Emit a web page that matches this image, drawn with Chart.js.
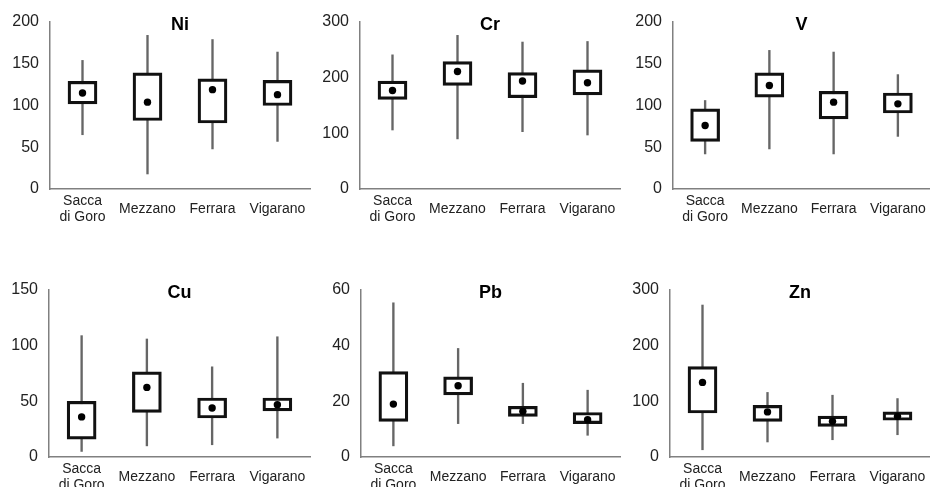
<!DOCTYPE html>
<html>
<head>
<meta charset="utf-8">
<script src="https://cdn.jsdelivr.net/npm/chart.js@4.4.1/dist/chart.umd.min.js"></script>
<style>
  body { margin: 0; background: #fff; }
  #wrap { position: relative; width: 930px; height: 487px; overflow: hidden; }
  canvas { position: absolute; }
</style>
</head>
<body>
<div id="wrap">
  <canvas id="ni" width="314" height="240" style="left:0;top:0"></canvas>
  <canvas id="cr" width="314" height="240" style="left:310px;top:0"></canvas>
  <canvas id="v" width="314" height="240" style="left:620px;top:0"></canvas>
  <canvas id="cu" width="314" height="247" style="left:0;top:240px"></canvas>
  <canvas id="pb" width="314" height="247" style="left:310px;top:240px"></canvas>
  <canvas id="zn" width="314" height="247" style="left:620px;top:240px"></canvas>
</div>
<script>
// sites along the x axis
const sites = [['Sacca', 'di Goro'], 'Mezzano', 'Ferrara', 'Vigarano'];

// Ni
const niMin = [65, 18, 48, 57];
const niQ1 = [102, 82, 79, 100];
const niQ3 = [129, 139, 132, 130];
const niMax = [154, 184, 179, 164];
const niMid = [115, 104, 119, 113];

// Cr
const crMin = [106, 90, 103, 97];
const crQ1 = [161, 186, 164, 169];
const crQ3 = [194, 229, 209, 214];
const crMax = [241, 276, 264, 265];
const crMid = [177, 211, 194, 191];

// V
const vMin = [42, 48, 42, 63];
const vQ1 = [57, 110, 84, 91];
const vQ3 = [96, 139, 117, 115];
const vMax = [106, 166, 164, 137];
const vMid = [76, 124, 104, 102];

// Cu
const cuMin = [5, 10, 11, 17];
const cuQ1 = [16, 40, 35, 41.5];
const cuQ3 = [50, 76.5, 53, 53];
const cuMax = [109, 106, 81, 108];
const cuMid = [36, 62.5, 44, 47];

// Pb
const pbMin = [4, 12, 12, 7.8];
const pbQ1 = [12.8, 22.3, 14.6, 12];
const pbQ3 = [30.7, 28.8, 18.2, 16];
const pbMax = [55.4, 39, 26.5, 24];
const pbMid = [19, 25.6, 16.4, 13.4];

// Zn
const znMin = [13, 27, 31, 40];
const znQ1 = [79, 64, 55, 66];
const znQ3 = [162.5, 92.6, 73.5, 81];
const znMax = [273, 116, 111, 105];
const znMid = [134, 81, 64, 73];

const FONT = '"Liberation Sans", Arial, sans-serif';

// title drawn just over the top of the plot area
const titlePlugin = {
    id: 'panelTitle',
    afterDraw(chart, args, opts) {
        const ctx = chart.ctx;
        const area = chart.chartArea;
        ctx.save();
        ctx.font = 'bold 18px ' + FONT;
        ctx.fillStyle = '#000';
        ctx.textAlign = 'center';
        ctx.textBaseline = 'middle';
        ctx.fillText(opts.text, (area.left + area.right) / 2, area.top + 3);
        ctx.restore();
    }
};

function makePanel(id, title, mins, q1s, q3s, maxs, mids, yMax, yStep, axisW, padTop, xAxisH) {
    const pairs = (a, b) => a.map((v, i) => [v, b[i]]);
    new Chart(document.getElementById(id), {
        type: 'bar',
        data: {
            labels: sites,
            datasets: [
                {
                    type: 'line',
                    data: mids,
                    showLine: false,
                    pointRadius: 3.7,
                    pointBackgroundColor: '#000',
                    pointBorderWidth: 0,
                    order: 0
                },
                {
                    data: pairs(q1s, q3s),
                    backgroundColor: '#fff',
                    borderColor: '#111',
                    borderWidth: 3.2,
                    borderSkipped: false,
                    barThickness: 29,
                    grouped: false,
                    order: 1
                },
                {
                    data: pairs(mins, maxs),
                    backgroundColor: '#666',
                    borderWidth: 0,
                    barThickness: 1.7,
                    grouped: false,
                    order: 2
                }
            ]
        },
        options: {
            responsive: false,
            animation: false,
            layout: { padding: { top: padTop, right: 0, left: 0, bottom: 0 } },
            plugins: {
                legend: { display: false },
                tooltip: { enabled: false },
                panelTitle: { text: title }
            },
            scales: {
                x: {
                    grid: { display: false, drawTicks: false },
                    border: { color: '#808080', width: 1.5 },
                    ticks: {
                        color: '#222',
                        font: { family: FONT, size: 14, lineHeight: 1.15 },
                        padding: 12,
                        crossAlign: 'center',
                        maxRotation: 0,
                        autoSkip: false
                    },
                    afterFit: s => {
                        s.height = xAxisH;
                        s.paddingLeft = 0;
                        s.paddingRight = 0;
                    }
                },
                y: {
                    min: 0,
                    max: yMax,
                    grid: { display: false, drawTicks: false },
                    border: { color: '#808080', width: 1.5 },
                    ticks: {
                        stepSize: yStep,
                        color: '#222',
                        font: { family: FONT, size: 16 },
                        padding: 11
                    },
                    afterFit: s => {
                        s.width = axisW;
                        s.paddingTop = 0;
                        s.paddingBottom = 0;
                    }
                }
            }
        },
        plugins: [titlePlugin]
    });
}

makePanel('ni', 'Ni', niMin, niQ1, niQ3, niMax, niMid, 200, 50, 50, 22, 51);
makePanel('cr', 'Cr', crMin, crQ1, crQ3, crMax, crMid, 300, 100, 50, 22, 51);
makePanel('v', 'V', vMin, vQ1, vQ3, vMax, vMid, 200, 50, 53, 22, 51);
makePanel('cu', 'Cu', cuMin, cuQ1, cuQ3, cuMax, cuMid, 150, 50, 49, 50, 30);
makePanel('pb', 'Pb', pbMin, pbQ1, pbQ3, pbMax, pbMid, 60, 20, 51, 50, 30);
makePanel('zn', 'Zn', znMin, znQ1, znQ3, znMax, znMid, 300, 100, 50, 50, 30);
</script>
</body>
</html>
